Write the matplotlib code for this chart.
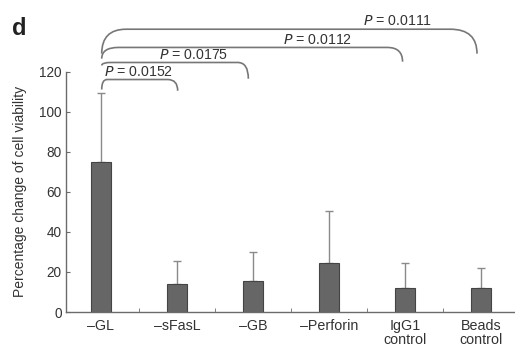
import matplotlib
matplotlib.use("Agg")
import matplotlib.pyplot as plt
from matplotlib.path import Path
from matplotlib.patches import PathPatch
import numpy as np

plt.rcParams['font.family'] = ['Liberation Sans', 'DejaVu Sans']

categories = ["–GL", "–sFasL", "–GB", "–Perforin", "IgG1\ncontrol", "Beads\ncontrol"]
means = [75, 14, 15.6, 24.4, 12, 12]
err_upper = [34.5, 11.4, 14.4, 26, 12.4, 10]

p_labels = ["P = 0.0152", "P = 0.0175", "P = 0.0112", "P = 0.0111"]
p_targets = [1, 2, 4, 5]

fig = plt.figure(figsize=(5.15, 3.49), dpi=100)
ax = fig.add_axes([66/515, 1-312/349, 1-66/515, (312-71.5)/349])

x = np.arange(len(categories))
gray = "#6b6b6b"
ax.bar(x, means, width=0.27, color="#666666", edgecolor="#444444", linewidth=0.8, zorder=2)
ax.errorbar(x, means, yerr=[np.zeros(len(means)), err_upper], fmt='none',
            ecolor="#8a8a8a", elinewidth=1.0, capsize=3, capthick=1.0, zorder=1)

ax.set_xlim(-0.46, 5.45)
ax.set_ylim(0, 120)
ax.set_yticks(np.arange(0, 121, 20))
ax.set_xticks(x)
ax.set_xticklabels(categories, fontsize=10.3, color="#333333", linespacing=1.0)
ax.set_xticks(x[:-1] + 0.5, minor=True)
ax.tick_params(axis='x', which='major', length=0, pad=5)
ax.tick_params(axis='x', which='minor', direction='in', length=3, color=gray)
ax.tick_params(axis='y', direction='in', length=3, color=gray, labelsize=9.8,
               labelcolor="#333333", pad=3)
for s in ['top', 'right']:
    ax.spines[s].set_visible(False)
for s in ['left', 'bottom']:
    ax.spines[s].set_color(gray)
    ax.spines[s].set_linewidth(1.0)
ax.set_ylabel("Percentage change of cell viability", fontsize=10, color="#333333", labelpad=9)

bracket_y = [116, 124.5, 132, 141.1]
left_start_y = [111, 123, 126.4, 128.9]
left_dx = [0.07, 0.12, 0.22, 0.32]
right_x = [1.01, 1.94, 3.97, 4.95]
right_dx = [0.13, 0.14, 0.2, 0.35]
right_end_y = [110.4, 116.4, 124.9, 128.9]
text_x = [0.5, 1.22, 2.85, 3.9]

x0 = 0.01
for i in range(4):
    yh = bracket_y[i]
    xr = right_x[i]
    verts = [(x0, left_start_y[i]), (x0, yh), (x0 + left_dx[i], yh),
             (xr - right_dx[i], yh), (xr, yh), (xr, right_end_y[i])]
    codes = [Path.MOVETO, Path.CURVE3, Path.CURVE3, Path.LINETO, Path.CURVE3, Path.CURVE3]
    patch = PathPatch(Path(verts, codes), facecolor='none', edgecolor="#777777",
                      linewidth=1.2, clip_on=False)
    ax.add_patch(patch)
    lbl = p_labels[i]
    ax.text(text_x[i], yh + 0.4, r"$\it{P}$" + lbl[1:], ha='center', va='bottom',
            fontsize=10.2, color="#333333", clip_on=False)

fig.text(12/515, 1-35/349, "d", fontsize=17, fontweight='bold', color="#222222")

fig.savefig("out.png", dpi=100)
